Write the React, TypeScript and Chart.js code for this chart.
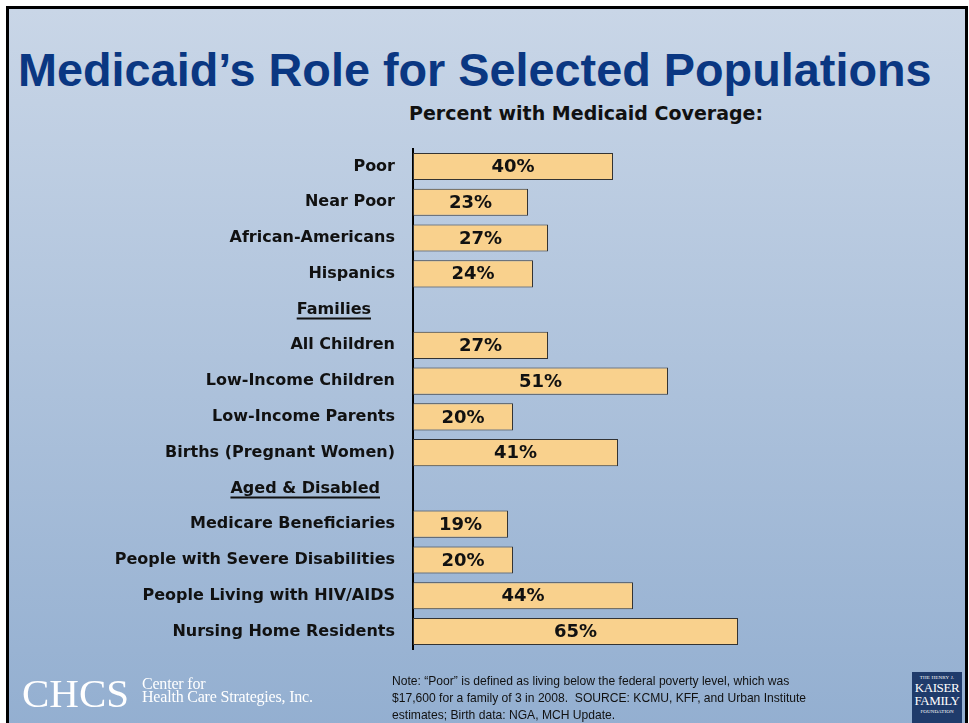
import React, { useEffect, useRef } from "react";
import { Chart, registerables } from "chart.js";

Chart.register(...registerables);

const categories = [
  "Poor",
  "Near Poor",
  "African-Americans",
  "Hispanics",
  "Families",
  "All Children",
  "Low-Income Children",
  "Low-Income Parents",
  "Births (Pregnant Women)",
  "Aged & Disabled",
  "Medicare Beneficiaries",
  "People with Severe Disabilities",
  "People Living with HIV/AIDS",
  "Nursing Home Residents",
];

const values: (number | null)[] = [40, 23, 27, 24, null, 27, 51, 20, 41, null, 19, 20, 44, 65];

const headerRows = ["Families", "Aged & Disabled"];

const valueLabels = values.map((v) => (v == null ? "" : v + "%"));

const FONT = "'DejaVu Sans', Verdana, sans-serif";

const valueLabelPlugin = {
  id: "valueLabels",
  afterDatasetsDraw(chart: any) {
    const ctx = chart.ctx;
    const meta = chart.getDatasetMeta(0);
    ctx.save();
    ctx.font = `bold 18px ${FONT}`;
    ctx.fillStyle = "#111";
    ctx.textAlign = "center";
    ctx.textBaseline = "middle";
    meta.data.forEach((el: any, i: number) => {
      if (values[i] == null) return;
      ctx.fillText(valueLabels[i], (el.x + el.base) / 2, el.y + 1);
    });
    ctx.restore();
  },
};

const headerPlugin = {
  id: "headers",
  afterDraw(chart: any) {
    const ctx = chart.ctx;
    const yScale = chart.scales.y;
    const left = chart.chartArea.left;
    const rightOffsets: Record<string, number> = { Families: 42, "Aged & Disabled": 33 };
    ctx.save();
    ctx.font = `bold 16px ${FONT}`;
    ctx.fillStyle = "#111";
    ctx.strokeStyle = "#111";
    ctx.lineWidth = 2;
    ctx.textAlign = "right";
    ctx.textBaseline = "middle";
    headerRows.forEach((h) => {
      const idx = categories.indexOf(h);
      const y = yScale.getPixelForValue(idx);
      const xr = left - rightOffsets[h];
      ctx.fillText(h, xr, y);
      const w = ctx.measureText(h).width;
      ctx.beginPath();
      ctx.moveTo(xr - w, y + 9);
      ctx.lineTo(xr, y + 9);
      ctx.stroke();
    });
    ctx.restore();
  },
};

function BarChart() {
  const ref = useRef<HTMLCanvasElement | null>(null);
  useEffect(() => {
    if (!ref.current) return;
    const chart = new Chart(ref.current, {
      type: "bar",
      data: {
        labels: categories,
        datasets: [
          {
            data: values as any,
            backgroundColor: "#f9d18d",
            borderColor: "#333333",
            borderWidth: 1,
            borderSkipped: false,
            categoryPercentage: 1,
            barPercentage: 0.76,
          },
        ],
      },
      options: {
        indexAxis: "y",
        animation: false,
        responsive: true,
        maintainAspectRatio: false,
        layout: { padding: { top: 0, bottom: 0, left: 0, right: 56 } },
        plugins: {
          legend: { display: false },
          tooltip: { enabled: false },
          title: { display: false },
        },
        scales: {
          x: { display: false, min: 0, max: 100 },
          y: {
            type: "category",
            grid: { display: false, drawTicks: false },
            border: { display: true, color: "#000", width: 2 },
            afterFit: (scale: any) => {
              scale.width = 413;
            },
            ticks: {
              padding: 18,
              color: "#111",
              font: { family: FONT, weight: "bold", size: 16 },
              callback: (_v: any, i: number) =>
                headerRows.includes(categories[i]) ? "" : categories[i],
            },
          },
        },
      },
      plugins: [valueLabelPlugin, headerPlugin],
    });
    return () => chart.destroy();
  }, []);
  return (
    <div style={{ position: "absolute", left: 0, top: 121, width: 969, height: 556 }}>
      <canvas ref={ref} />
    </div>
  );
}

export default function App() {
  return (
    <div
      style={{
        position: "absolute",
        left: 0,
        top: 0,
        width: 969,
        height: 723,
        overflow: "hidden",
        background: "#fff",
      }}
    >
      <div
        style={{
          position: "absolute",
          left: 6,
          top: 6,
          width: 962,
          height: 740,
          boxSizing: "border-box",
          border: "3px solid #000",
          background: "linear-gradient(to bottom, #c9d6e7 0%, #92aed0 100%)",
        }}
      />
      <div
        style={{
          position: "absolute",
          left: 18,
          top: 47,
          fontFamily: "'Liberation Sans', Arial, sans-serif",
          fontWeight: "bold",
          fontSize: 46.8,
          lineHeight: 1,
          color: "#0a3782",
          whiteSpace: "nowrap",
        }}
      >
        Medicaid’s Role for Selected Populations
      </div>
      <div
        style={{
          position: "absolute",
          left: 409,
          top: 104,
          fontFamily: FONT,
          fontWeight: "bold",
          fontSize: 19,
          lineHeight: 1,
          color: "#111",
          whiteSpace: "nowrap",
        }}
      >
        Percent with Medicaid Coverage:
      </div>
      <BarChart />
      {/* CHCS logo */}
      <div
        style={{
          position: "absolute",
          left: 22,
          top: 673,
          fontFamily: "'Liberation Serif', serif",
          fontSize: 41,
          lineHeight: 1,
          color: "#fff",
          whiteSpace: "nowrap",
        }}
      >
        CHCS
      </div>
      <div
        style={{
          position: "absolute",
          left: 142,
          top: 677,
          fontFamily: "'Liberation Serif', serif",
          fontSize: 16,
          lineHeight: "13px",
          color: "#fff",
          whiteSpace: "nowrap",
          letterSpacing: -0.2,
        }}
      >
        Center for
        <br />
        Health Care Strategies, Inc.
      </div>
      {/* Note */}
      <div
        style={{
          position: "absolute",
          left: 392,
          top: 673,
          fontFamily: "'Liberation Sans', Arial, sans-serif",
          fontSize: 12.1,
          lineHeight: "17px",
          color: "#111",
          whiteSpace: "nowrap",
        }}
      >
        Note: “Poor” is defined as living below the federal poverty level, which was
        <br />
        $17,600 for a family of 3 in 2008.&nbsp; SOURCE: KCMU, KFF, and Urban Institute
        <br />
        estimates; Birth data: NGA, MCH Update.
      </div>
      {/* Kaiser logo */}
      <div
        style={{
          position: "absolute",
          left: 912,
          top: 672,
          width: 50,
          height: 60,
          background: "#1f3b6b",
          color: "#fff",
          fontFamily: "'Liberation Serif', serif",
          textAlign: "center",
          lineHeight: 1,
        }}
      >
        <div style={{ fontSize: 5, marginTop: 3, letterSpacing: 0.2 }}>THE HENRY J.</div>
        <div style={{ fontSize: 13, marginTop: 1, letterSpacing: -0.4 }}>KAISER</div>
        <div style={{ fontSize: 13, marginTop: 0, letterSpacing: -0.4 }}>FAMILY</div>
        <div style={{ fontSize: 5, marginTop: 2, letterSpacing: 0.1 }}>FOUNDATION</div>
      </div>
    </div>
  );
}
